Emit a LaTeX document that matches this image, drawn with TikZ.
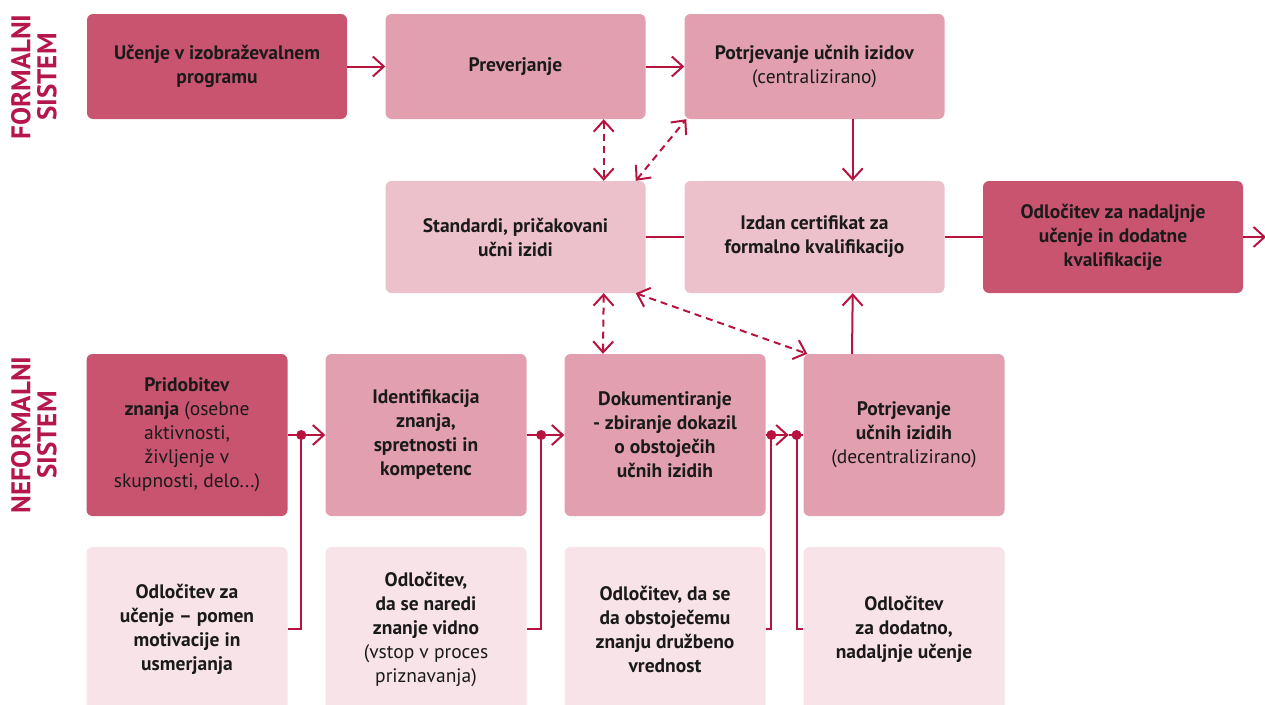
\documentclass[tikz,border=0pt]{standalone}
\usepackage{fontspec}
\setmainfont{PT Sans}
\usetikzlibrary{arrows.meta,calc}
\definecolor{cdark}{HTML}{C9546F}
\definecolor{cmed}{HTML}{E29FB0}
\definecolor{clight}{HTML}{EDC1CB}
\definecolor{cpale}{HTML}{F8E3E8}
\definecolor{cline}{HTML}{B8123F}
\definecolor{clabel}{HTML}{B5174A}
\definecolor{ctext}{HTML}{1A1A1A}
\begin{document}
\begin{tikzpicture}[x=1pt,y=-1pt,
  box/.style={rounded corners=6pt, inner sep=0pt, align=center, text=ctext,
    font=\fontsize{19.5}{24}\selectfont},
  wide/.style={box, minimum width=260pt},
  narrow/.style={box, minimum width=201pt},
  conn/.style={draw=cline, line width=2pt},
  barb/.tip={Straight Barb[length=11pt,width=20pt]},
  dash2/.style={conn, dash pattern=on 7pt off 5pt, {barb}-{barb}},
  dot/.style={circle, fill=cline, inner sep=0pt, minimum size=10pt},
  sidelabel/.style={rotate=90, text=clabel, align=center,
    font=\fontsize{27}{26}\selectfont\bfseries}
]
\useasboundingbox (0,0) rectangle (1265,704);

% side labels
\node[sidelabel] (lf) at (34,77) {FORMALNI\\SISTEM};
\node[sidelabel] (ln) at (34,435) {NEFORMALNI\\SISTEM};

% row 1
\node[wide, fill=cdark, minimum height=105pt] (b1) at (217,66.5) {\textbf{Učenje v izobraževalnem}\\\textbf{programu}};
\node[wide, fill=cmed, minimum height=105pt] (b2) at (515.5,66.5) {\textbf{Preverjanje}};
\node[wide, fill=cmed, minimum height=105pt] (b3) at (814.5,66.5) {\textbf{Potrjevanje učnih izidov}\\(centralizirano)};

% row 2
\node[wide, fill=clight, minimum height=112pt] (b4) at (515.5,237) {\textbf{Standardi, pričakovani}\\\textbf{učni izidi}};
\node[wide, fill=clight, minimum height=112pt] (b5) at (814.5,237) {\textbf{Izdan certifikat za}\\\textbf{formalno kvalifikacijo}};
\node[wide, fill=cdark, minimum height=112pt] (b6) at (1113,237) {\textbf{Odločitev za nadaljnje}\\\textbf{učenje in dodatne}\\\textbf{kvalifikacije}};

% row 3
\node[narrow, fill=cdark, minimum height=162pt] (b7) at (187,435) {\textbf{Pridobitev}\\\textbf{znanja} (osebne\\aktivnosti,\\življenje v\\skupnosti, delo...)};
\node[narrow, fill=cmed, minimum height=162pt] (b8) at (426,435) {\textbf{Identifikacija}\\\textbf{znanja,}\\\textbf{spretnosti in}\\\textbf{kompetenc}};
\node[narrow, fill=cmed, minimum height=162pt] (b9) at (665,435) {\textbf{Dokumentiranje}\\\textbf{- zbiranje dokazil}\\\textbf{o obstoječih}\\\textbf{učnih izidih}};
\node[narrow, fill=cmed, minimum height=162pt] (b10) at (904,435) {\textbf{Potrjevanje}\\\textbf{učnih izidih}\\(decentralizirano)};

% row 4
\node[narrow, fill=cpale, minimum height=164pt] (b11) at (187,629) {\textbf{Odločitev za}\\\textbf{učenje – pomen}\\\textbf{motivacije in}\\\textbf{usmerjanja}};
\node[narrow, fill=cpale, minimum height=164pt] (b12) at (426,629) {\textbf{Odločitev,}\\\textbf{da se naredi}\\\textbf{znanje vidno}\\(vstop v proces\\priznavanja)};
\node[narrow, fill=cpale, minimum height=164pt] (b13) at (665,629) {\textbf{Odločitev, da se}\\\textbf{da obstoječemu}\\\textbf{znanju družbeno}\\\textbf{vrednost}};
\node[narrow, fill=cpale, minimum height=164pt] (b14) at (904,629) {\textbf{Odločitev}\\\textbf{za dodatno,}\\\textbf{nadaljnje učenje}};

% formal connectors
\draw[conn,-{barb}] (b1) -- (b2);
\draw[conn,-{barb}] (b2) -- (b3);
\draw[conn,-{barb}] ([xshift=-92pt]b3.south east) -- ([xshift=-92pt]b5.north east);
\draw[conn,-{barb}] ([xshift=-52pt]b10.north) -- ([xshift=-92pt]b5.south east);
\draw[dash2] ([xshift=-42pt]b2.south east) -- ([xshift=-42pt]b4.north east);
\draw[dash2] ([xshift=-10pt]b4.north east) -- ([xshift=2pt]b3.south west);
\draw[dash2] ([xshift=-42pt]b4.south east) -- ([xshift=-62pt]b9.north);
\draw[dash2] ([xshift=-10pt]b4.south east) -- ([xshift=4pt]b10.north west);
\draw[conn] (b4) -- (b5);
\draw[conn] (b5) -- (b6);
\coordinate (rout) at (1266,237);
\draw[conn,-{barb}] (b6) -- (rout);

% informal connectors
\coordinate (j1) at ($(b7.east)!0.36!(b8.west)$);
\coordinate (j2) at ($(b8.east)!0.385!(b9.west)$);
\coordinate (j3) at ($(b9.east)!0.15!(b10.west)$);
\coordinate (a3) at ($(b9.east)!0.61!(b10.west)$);
\coordinate (j4) at ($(b9.east)!0.82!(b10.west)$);
\draw[conn,-{barb}] (b7) -- (b8);
\draw[conn,-{barb}] (b8) -- (b9);
\draw[conn,-{barb}] (b9) -- (a3);
\draw[conn] (a3) -- (b10);
\draw[conn] (b11.east) -- (j1 |- b11.east) -- (j1);
\draw[conn] (b12.east) -- (j2 |- b12.east) -- (j2);
\draw[conn] (b13.east) -- (j3 |- b13.east) -- (j3);
\draw[conn] (b14.west) -- (j4 |- b14.west) -- (j4);
\node[dot] (d1) at (j1) {};
\node[dot] (d2) at (j2) {};
\node[dot] (d3) at (j3) {};
\node[dot] (d4) at (j4) {};
\end{tikzpicture}
\end{document}
